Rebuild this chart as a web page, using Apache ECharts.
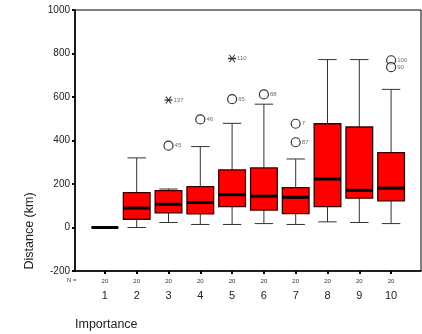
<!DOCTYPE html>
<html>
<head>
<meta charset="utf-8">
<script src="https://cdn.jsdelivr.net/npm/echarts@6/dist/echarts.min.js"></script>
<style>
    html, body { margin: 0; padding: 0; background: #fff; }
    #chart { width: 422px; height: 334px; }
</style>
</head>
<body>
<div id="chart"></div>
<script>
    // categories and group counts
    let categories = ['1', '2', '3', '4', '5', '6', '7', '8', '9', '10'];
    let counts = [20, 20, 20, 20, 20, 20, 20, 20, 20, 20];
    let yTicks = [-200, 0, 200, 400, 600, 800, 1000];

    // box statistics per category
    let lowWhisker = [0, 0, 23, 14, 14, 18, 14, 26, 23, 18];
    let q1 = [0, 38, 67, 63, 96, 80, 64, 96, 135, 122];
    let median = [0, 89, 107, 115, 151, 144, 139, 223, 171, 181];
    let q3 = [0, 160, 170, 188, 265, 274, 183, 477, 462, 344];
    let highWhisker = [0, 320, 177, 372, 479, 567, 315, 772, 772, 635];

    // outliers (circles) and extremes (stars)
    let outlierCats = ['3', '4', '5', '6', '7', '7', '10', '10'];
    let outlierValues = [376, 497, 590, 612, 477, 392, 769, 737];
    let outlierIds = ['45', '46', '65', '88', '7', '87', '100', '90'];
    let extremeCats = ['3', '5'];
    let extremeValues = [586, 777];
    let extremeIds = ['137', '110'];

    let boxData = categories.map(function (c, i) {
        return [i, lowWhisker[i], q1[i], median[i], q3[i], highWhisker[i]];
    });
    let outlierData = outlierCats.map(function (c, i) {
        return { value: [c, outlierValues[i]], name: outlierIds[i] };
    });
    let extremeData = extremeCats.map(function (c, i) {
        return { value: [c, extremeValues[i]], name: extremeIds[i] };
    });

    /**箱线绘制*/
    function renderBox(params, api) {
        let idx = api.value(0);
        let pMin = api.coord([idx, api.value(1)]);
        let pQ1 = api.coord([idx, api.value(2)]);
        let pMed = api.coord([idx, api.value(3)]);
        let pQ3 = api.coord([idx, api.value(4)]);
        let pMax = api.coord([idx, api.value(5)]);
        let band = api.size([1, 0])[0];
        let half = band * 0.42;
        let cap = band * 0.29;
        let x = pMed[0];
        let whiskerStyle = { stroke: '#333', lineWidth: 1 };
        return {
            type: 'group',
            children: [
                { type: 'line', shape: { x1: x, y1: pQ3[1], x2: x, y2: pMax[1] }, style: whiskerStyle },
                { type: 'line', shape: { x1: x, y1: pQ1[1], x2: x, y2: pMin[1] }, style: whiskerStyle },
                { type: 'line', shape: { x1: x - cap, y1: pMax[1], x2: x + cap, y2: pMax[1] }, style: whiskerStyle },
                { type: 'line', shape: { x1: x - cap, y1: pMin[1], x2: x + cap, y2: pMin[1] }, style: whiskerStyle },
                {
                    type: 'rect',
                    shape: { x: x - half, y: pQ3[1], width: half * 2, height: pQ1[1] - pQ3[1] },
                    style: { fill: '#ff0000', stroke: '#3a0000', lineWidth: 1.3 }
                },
                {
                    type: 'line',
                    shape: { x1: x - half, y1: pMed[1], x2: x + half, y2: pMed[1] },
                    style: { stroke: '#000', lineWidth: 3 }
                }
            ]
        };
    }

    let starPath = 'path://M0,4.4L10,4.4L10,5.6L0,5.6Z' +
        'M1.2,2L2,1.2L8.8,8L8,8.8Z' +
        'M8,1.2L8.8,2L2,8.8L1.2,8Z';

    let chart = echarts.init(document.getElementById('chart'));
    let font = 'Liberation Sans, Arial, sans-serif';

    chart.setOption({
        animation: false,
        textStyle: { fontFamily: font },
        grid: [
            { left: 75, top: 10, width: 346, height: 261, show: true, borderColor: '#000', borderWidth: 1, backgroundColor: 'transparent' },
            { left: 89, top: 10, width: 318, height: 261 }
        ],
        xAxis: [
            {
                type: 'value', gridIndex: 0, min: 0, max: 1,
                axisLine: { show: true, onZero: false, lineStyle: { color: '#000', width: 1.6 } },
                axisTick: { show: false }, axisLabel: { show: false }, splitLine: { show: false }
            },
            {
                type: 'category', gridIndex: 1, data: categories,
                axisLine: { show: false, onZero: false },
                axisTick: { show: true, alignWithLabel: true, interval: 0, length: 3, lineStyle: { color: '#000', width: 2 } },
                axisLabel: {
                    margin: 5,
                    interval: 0,
                    formatter: function (v, i) {
                        return '{n|' + counts[i] + '}\n{c|' + v + '}';
                    },
                    rich: {
                        n: { fontSize: 6, lineHeight: 10, color: '#333', fontFamily: font },
                        c: { fontSize: 11, lineHeight: 20, color: '#222', fontFamily: font }
                    }
                }
            }
        ],
        yAxis: [
            {
                type: 'value', gridIndex: 0, min: yTicks[0], max: yTicks[yTicks.length - 1], interval: 200,
                axisLine: { show: true, onZero: false, lineStyle: { color: '#000', width: 1.6 } },
                axisTick: { show: true, length: 3, lineStyle: { color: '#000', width: 2 } },
                axisLabel: { fontSize: 10, color: '#222', margin: 5, fontFamily: font, formatter: function (v) { return String(v); } },
                splitLine: { show: false }
            },
            {
                type: 'value', gridIndex: 1, min: yTicks[0], max: yTicks[yTicks.length - 1],
                show: false, splitLine: { show: false }
            }
        ],
        graphic: [
            { type: 'text', left: 67, top: 277, style: { text: 'N =', fontSize: 6, fill: '#333', fontFamily: font } },
            { type: 'text', left: 75, top: 318, style: { text: 'Importance', fontSize: 12.5, fill: '#222', fontFamily: font } },
            {
                type: 'text', x: 30, y: 231, rotation: Math.PI / 2,
                style: { text: 'Distance (km)', fontSize: 12.5, fill: '#222', fontFamily: font, textAlign: 'center', textVerticalAlign: 'middle' }
            }
        ],
        series: [
            {
                type: 'custom', xAxisIndex: 1, yAxisIndex: 1,
                renderItem: renderBox,
                encode: { x: 0, y: [1, 2, 3, 4, 5] },
                data: boxData
            },
            {
                type: 'scatter', xAxisIndex: 1, yAxisIndex: 1,
                symbol: 'circle', symbolSize: 9,
                itemStyle: { color: '#fff', borderColor: '#000', borderWidth: 1.2 },
                label: { show: true, position: 'right', distance: 1, fontSize: 6, color: '#444', formatter: '{b}' },
                data: outlierData
            },
            {
                type: 'scatter', xAxisIndex: 1, yAxisIndex: 1,
                symbol: starPath, symbolSize: 8,
                itemStyle: { color: '#000' },
                label: { show: true, position: 'right', distance: 1, fontSize: 6, color: '#444', formatter: '{b}' },
                data: extremeData
            }
        ]
    });
</script>
</body>
</html>
